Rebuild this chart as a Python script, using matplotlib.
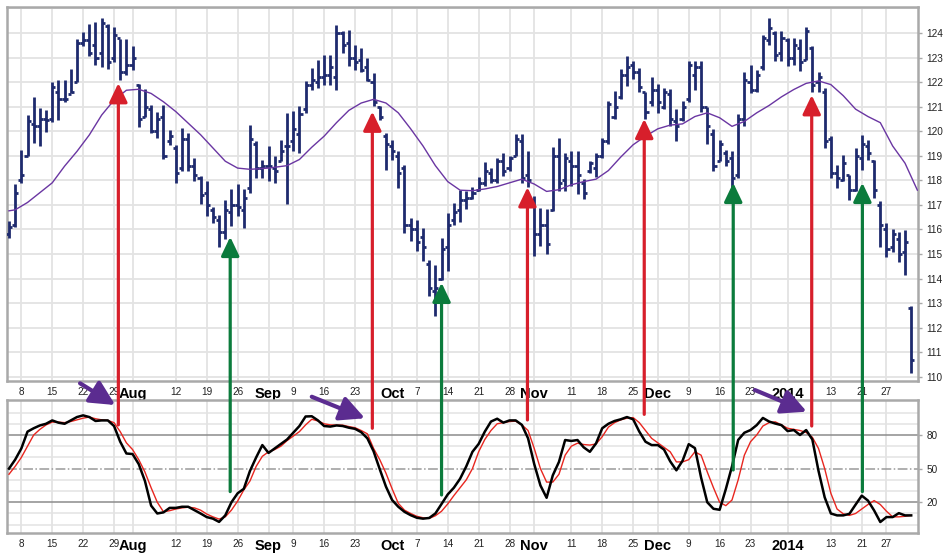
import numpy as np
import pandas as pd
import matplotlib
matplotlib.use('Agg')
import matplotlib.pyplot as plt

plt.rcParams['font.family'] = ['Liberation Sans', 'DejaVu Sans']

# trading days shown, Jul 3 2013 .. Jan 31 2014
holidays = ['2013-07-04', '2013-09-02', '2013-11-28', '2013-12-25', '2014-01-01', '2014-01-20']
dates = pd.bdate_range('2013-07-03', '2014-01-31', freq='C', holidays=holidays)

# daily OHLC
hi = [116.35, 117.84, 119.25, 120.66, 121.40, 120.93, 120.86, 122.01, 122.08, 122.10,
      122.55, 123.76, 124.03, 124.36, 124.43, 124.63, 124.36, 124.23, 123.76, 123.76,
      123.49, 121.94, 121.74, 121.07, 120.80, 121.07, 120.06, 119.45, 120.12, 119.92,
      118.91, 118.17, 117.97, 116.90, 116.60, 117.20, 117.65, 117.85, 117.65, 120.27,
      119.59, 118.84, 119.39, 118.98, 119.66, 120.74, 120.81, 121.01, 122.03, 122.58,
      122.91, 123.12, 123.12, 124.34, 124.07, 124.14, 123.53, 123.39, 122.98, 122.37,
      121.01, 119.93, 119.66, 119.18, 118.64, 116.47, 116.40, 116.06, 114.77, 114.57,
      115.66, 116.67, 117.08, 117.60, 117.55, 117.71, 118.12, 118.73, 118.52, 118.93,
      119.13, 119.00, 119.88, 119.88, 119.20, 117.37, 116.89, 116.83, 119.34, 119.74,
      119.13, 119.20, 119.20, 118.05, 118.79, 119.13, 119.74, 121.24, 121.64, 122.53,
      123.07, 122.86, 122.59, 121.58, 122.19, 121.91, 121.78, 121.71, 120.90, 121.24,
      122.85, 122.85, 122.85, 121.00, 120.10, 119.65, 119.25, 119.20, 120.70, 122.40,
      122.70, 122.50, 123.90, 124.60, 124.10, 124.10, 123.80, 123.80, 123.75, 124.25,
      123.46, 122.40, 121.76, 119.80, 118.64, 119.05, 118.23, 119.32, 119.86, 119.65,
      118.84, 117.17, 116.25, 116.04, 115.91, 115.98, 112.90]
lo = [115.64, 116.09, 117.90, 118.98, 119.52, 119.38, 119.99, 120.39, 120.46, 121.20,
      121.54, 122.01, 123.49, 123.08, 122.68, 122.61, 122.55, 122.82, 122.08, 122.28,
      122.48, 120.19, 120.60, 119.92, 119.72, 118.85, 119.45, 117.90, 118.37, 118.37,
      117.97, 117.03, 116.56, 116.25, 115.30, 115.60, 116.15, 116.55, 116.05, 117.50,
      118.10, 118.10, 117.96, 117.89, 118.78, 117.03, 119.18, 119.12, 120.74, 121.69,
      121.76, 121.90, 121.90, 121.70, 123.19, 122.64, 122.51, 122.40, 122.03, 121.01,
      120.47, 118.44, 118.84, 117.69, 115.86, 115.52, 115.11, 114.71, 113.28, 112.47,
      113.96, 114.30, 116.20, 116.30, 116.85, 117.23, 117.57, 117.78, 117.91, 117.91,
      118.18, 118.39, 119.00, 117.91, 117.71, 114.93, 115.33, 114.99, 116.76, 117.57,
      117.57, 117.78, 117.44, 117.23, 118.32, 118.12, 118.93, 119.47, 120.49, 121.30,
      121.85, 122.12, 121.58, 120.49, 121.03, 120.76, 120.90, 120.22, 119.61, 120.42,
      121.20, 121.70, 120.80, 119.50, 118.40, 118.80, 118.60, 117.20, 118.10, 120.20,
      121.55, 121.60, 122.50, 123.50, 122.85, 122.85, 122.65, 122.70, 122.45, 122.90,
      121.60, 121.60, 119.32, 118.10, 117.70, 117.96, 117.21, 117.55, 118.43, 118.84,
      117.28, 115.30, 114.89, 115.09, 114.68, 114.14, 110.14]
op = [115.8, 116.2, 118.0, 119.0, 120.3, 120.2, 120.5, 120.5, 121.6, 121.3,
      121.5, 122.0, 123.6, 123.7, 123.5, 123.2, 124.3, 123.0, 123.8, 122.4,
      122.7, 121.9, 120.6, 120.9, 120.0, 120.6, 119.6, 119.3, 118.5, 119.7,
      118.6, 118.1, 117.5, 116.8, 116.4, 115.9, 116.7, 117.0, 116.8, 117.7,
      119.5, 118.5, 118.6, 118.5, 118.8, 119.4, 119.6, 119.9, 120.9, 121.9,
      122.0, 122.2, 122.3, 122.2, 124.0, 123.6, 123.0, 122.9, 122.6, 122.0,
      121.0, 119.8, 119.4, 119.0, 118.5, 116.2, 116.0, 115.7, 114.6, 113.5,
      114.0, 115.3, 116.4, 116.8, 117.2, 117.3, 117.6, 117.9, 118.3, 118.0,
      118.8, 118.5, 119.0, 119.6, 118.2, 117.2, 115.8, 116.2, 116.8, 119.0,
      118.0, 118.8, 118.6, 117.9, 118.4, 118.5, 119.0, 119.6, 120.6, 121.4,
      122.3, 122.7, 122.4, 121.6, 121.2, 121.7, 121.0, 121.5, 120.4, 120.5,
      121.3, 122.3, 122.6, 121.0, 119.9, 118.8, 119.1, 118.9, 118.2, 120.5,
      122.0, 121.7, 122.6, 123.7, 124.0, 123.2, 123.7, 123.0, 123.4, 122.9,
      123.4, 122.0, 121.6, 119.7, 118.3, 118.0, 118.2, 117.6, 118.9, 119.4,
      118.8, 117.0, 116.0, 115.3, 115.6, 115.1, 112.8]
cl = [116.1, 117.5, 118.2, 120.4, 120.2, 120.5, 120.46, 121.8, 121.3, 121.3,
      121.6, 123.6, 123.7, 123.2, 123.0, 124.4, 122.8, 123.9, 122.4, 122.7,
      123.0, 120.5, 121.0, 120.0, 120.5, 119.0, 119.8, 118.3, 119.7, 118.6,
      118.2, 117.4, 117.0, 116.5, 115.9, 116.8, 117.0, 116.9, 117.3, 119.7,
      118.5, 118.6, 118.6, 118.4, 119.2, 119.4, 120.1, 120.7, 121.9, 122.1,
      122.2, 122.3, 122.6, 124.0, 123.5, 123.0, 122.8, 122.5, 122.1, 121.2,
      120.6, 119.5, 119.2, 118.3, 116.2, 116.0, 115.5, 115.3, 113.6, 113.6,
      115.2, 116.2, 116.7, 117.2, 117.3, 117.5, 117.9, 118.4, 118.0, 118.8,
      118.4, 118.9, 119.7, 118.1, 118.0, 115.8, 116.2, 115.4, 119.0, 117.9,
      118.9, 118.6, 118.2, 117.5, 118.7, 119.0, 119.6, 121.1, 121.0, 122.3,
      122.6, 122.4, 121.8, 120.8, 121.7, 121.2, 121.6, 120.5, 120.2, 121.0,
      122.7, 122.6, 121.0, 120.2, 118.6, 119.5, 118.8, 118.1, 120.5, 122.1,
      121.7, 122.3, 123.8, 124.2, 123.1, 123.8, 123.0, 123.5, 122.8, 124.1,
      121.9, 122.2, 119.6, 118.3, 118.1, 118.7, 117.6, 119.0, 119.5, 119.1,
      117.6, 116.2, 115.2, 115.8, 115.0, 115.5, 110.7]

# moving average, read at every other bar
ma_day = [0, 1, 3, 5, 7, 9, 11, 13, 15, 17, 19, 21, 23, 25, 27, 29, 31, 33, 35, 37,
          39, 42, 45, 47, 49, 51, 53, 55, 57, 59, 61, 63, 65, 67, 69, 71, 73, 75, 77, 79,
          81, 83, 85, 87, 89, 91, 93, 95, 97, 99, 101, 103, 105, 107, 109, 111, 113, 115,
          117, 119, 121, 123, 125, 127, 129, 131, 133, 135, 137, 139, 141, 143, 145, 147]
ma_val = [116.76, 116.8, 117.1, 117.5, 117.9, 118.58, 119.18, 119.85, 120.66, 121.27,
          121.67, 121.71, 121.54, 121.2, 120.8, 120.33, 119.86, 119.32, 118.78, 118.5,
          118.45, 118.5, 118.6, 118.85, 119.35, 119.8, 120.35, 120.85, 121.15, 121.3,
          121.15, 120.75, 120.1, 119.4, 118.6, 117.95, 117.6, 117.58, 117.65, 117.75,
          117.9, 118.05, 117.85, 117.55, 117.62, 117.82, 117.95, 118.05, 118.4, 118.95,
          119.45, 119.8, 120.1, 120.25, 120.3, 120.6, 120.75, 120.55, 120.2, 120.4,
          120.75, 121.05, 121.4, 121.7, 121.95, 122.05, 121.9, 121.45, 120.9, 120.6,
          120.35, 119.4, 118.7, 117.6]

# slow stochastic %K (black) and %D (red)
pct_k = [50, 58, 68, 83, 86, 88.5, 90, 93, 91, 90, 93, 96, 97.5, 96, 92.5, 93, 93, 88, 74, 63.5,
         63, 54, 39, 17, 10, 11, 15, 15, 16, 16, 13, 10, 6.8, 5.4, 2.5, 8.3, 20, 28, 32, 48,
         60, 71, 64, 68, 72, 76, 82, 88, 96.5, 96.7, 93, 88, 87.5, 88.5, 88, 86.5, 85.5, 82.5, 77, 65.5,
         49.5, 34, 22, 16, 11.5, 8.5, 6.2, 5.4, 6, 10, 18.5, 27, 33, 41, 52, 65, 72, 83, 92, 94.5,
         91, 93, 93, 89, 77, 54, 35, 24, 44, 56, 75.5, 74.7, 75.5, 69, 65, 72.5, 86, 90, 92.5, 94,
         96, 94, 83, 74, 71, 71, 67, 56.5, 48.5, 57, 71.8, 68.3, 42, 20, 14.2, 13.3, 31.7, 52, 75.6, 82,
         84.4, 88.8, 95.2, 92, 90.2, 88.8, 83.5, 84.4, 80, 84.4, 76, 48, 24.4, 10, 8.3, 8.3, 9.7, 17.9, 25.9, 21.5,
         12.7, 2.4, 6.8, 6.8, 10.3, 8.3, 8.3]
pct_d = [45, 52, 60, 70, 80, 85, 89, 91.5, 91.5, 91, 92, 93.5, 95, 96, 94.5, 93.5, 93, 91, 83, 73,
         67, 58, 47, 33, 20, 11.5, 12.5, 14, 15, 15.6, 15, 13, 9.5, 7, 5, 7, 13, 21, 31, 39,
         52, 61, 65, 67, 70, 75, 79, 83, 89, 94, 92.5, 90, 89, 88.8, 88.8, 87.5, 86.5, 84, 81, 68,
         58, 46, 32, 19, 13, 10, 7.5, 6.2, 5.6, 8, 12, 18.5, 26, 33, 40, 50, 65, 76, 84, 90,
         91, 92, 92.3, 89, 84, 68, 50, 38, 38, 45, 62, 70, 72.7, 71.5, 71, 72, 78.5, 87, 91, 93.5,
         95, 95.5, 91, 84, 77, 73, 69, 65, 56, 56, 58, 65, 62, 47, 33, 20, 17, 22, 40, 62,
         74, 80, 88, 91, 91.7, 89, 86, 85, 84, 82.3, 78, 68, 50, 28, 14, 9.7, 8.3, 10, 14, 18,
         21.5, 18, 12, 7, 7, 7.5, 8.3]

# date axis labels
week_ticks = ['2013-07-08', '2013-07-15', '2013-07-22', '2013-07-29', '2013-08-12', '2013-08-19',
              '2013-08-26', '2013-09-09', '2013-09-16', '2013-09-23', '2013-10-07', '2013-10-14',
              '2013-10-21', '2013-10-28', '2013-11-11', '2013-11-18', '2013-11-25', '2013-12-09',
              '2013-12-16', '2013-12-23', '2014-01-13', '2014-01-21', '2014-01-27']
month_ticks = ['2013-08-01', '2013-09-03', '2013-10-01', '2013-11-01', '2013-12-02', '2014-01-02']
month_labels = ['Aug', 'Sep', 'Oct', 'Nov', 'Dec', '2014']

# signal arrows: (day, price at tip, stochastic value at base)
red_sig = [(17.7, 121.96, 89), (58.8, 120.8, 86), (83.9, 117.72, 93.4), (102.8, 120.5, 98.4), (129.9, 121.47, 88)]
green_sig = [(35.8, 115.7, 29.5), (70.0, 113.83, 26.5), (117.2, 117.9, 48.8), (138.1, 117.9, 29.5)]
# purple arrows: (day0, stoch0, day1, stoch1)
purple_sig = [(11.5, 126.1, 17.2, 106.7), (49.0, 114.1, 57.6, 94.9), (120.7, 120.1, 129.1, 100.8)]

BAR = '#1e2a6e'
GRID = '#e3e3e3'
FRAME = '#a9a9a9'

x = np.arange(len(dates))
wk_pos = dates.get_indexer(pd.to_datetime(week_ticks))
mo_pos = dates.get_indexer(pd.to_datetime(month_ticks))
wk_lab = [str(pd.Timestamp(d).day) for d in week_ticks]

fig = plt.figure(figsize=(9.53, 5.56), dpi=100)
ax1 = fig.add_axes([7 / 953, 1 - 381 / 556, 911 / 953, 374 / 556])
ax2 = fig.add_axes([7 / 953, 1 - 533 / 556, 911 / 953, 133 / 556])

for ax in (ax1, ax2):
    ax.set_xlim(-0.32, 147.1)
    for p in list(wk_pos) + list(mo_pos):
        ax.axvline(p, color=GRID, lw=1.3, zorder=0)
    for s in ax.spines.values():
        s.set_color(FRAME)
        s.set_linewidth(1.8)
    ax.yaxis.tick_right()
    ax.tick_params(axis='y', length=3, width=1, color=FRAME, pad=3, labelsize=7.2, labelcolor='#222222')
    ax.tick_params(axis='x', length=0, pad=4)
    ax.set_xticks(list(wk_pos) + list(mo_pos))
    ax.set_xticklabels(wk_lab + month_labels)
    for t in ax.get_xticklabels()[len(wk_pos):]:
        t.set_fontsize(10.5)
        t.set_fontweight('bold')
    for t in ax.get_xticklabels()[:len(wk_pos)]:
        t.set_fontsize(7.2)
        t.set_color('#222222')

# price panel
ax1.set_ylim(109.83, 125.06)
ax1.set_yticks(range(110, 125))
for v in range(110, 126):
    ax1.axhline(v, color=GRID, lw=1.3, zorder=0)
ax1.vlines(x, lo, hi, color=BAR, lw=2.0, zorder=3)
ax1.hlines(op, x - 0.5, x, color=BAR, lw=2.0, zorder=3)
ax1.hlines(cl, x, x + 0.5, color=BAR, lw=2.0, zorder=3)
ax1.plot(ma_day, ma_val, color='#6a36a2', lw=1.0, zorder=4)

# stochastic panel
ax2.set_ylim(-7.4, 111.2)
ax2.set_yticks([20, 50, 80])
for v in [0, 10, 30, 40, 60, 70, 90, 100]:
    ax2.axhline(v, color=GRID, lw=1.1, zorder=0)
ax2.axhline(80, color='#8c8c8c', lw=1.1, zorder=1)
ax2.axhline(20, color='#8c8c8c', lw=1.1, zorder=1)
ax2.axhline(50, color='#9a9a9a', lw=1.1, ls='-.', zorder=1)
ax2.plot(x, pct_d, color='#e8261f', lw=1.0, zorder=3)
ax2.plot(x, pct_k, color='black', lw=1.8, zorder=4)

# vertical signal arrows from the oscillator up to price
for sigs, col in ((red_sig, '#d71f2b'), (green_sig, '#0b7b3c')):
    for d, p, s in sigs:
        ax2.annotate('', xy=(d, p), xycoords=ax1.transData, xytext=(d, s), textcoords='data',
                     arrowprops=dict(arrowstyle='-|>,head_length=1.15,head_width=0.55',
                                     color=col, lw=2.3, shrinkA=0, shrinkB=0, mutation_scale=10),
                     annotation_clip=False, zorder=6)

for d0, s0, d1, s1 in purple_sig:
    ax2.annotate('', xy=(d1, s1), xytext=(d0, s0),
                 arrowprops=dict(arrowstyle='-|>,head_length=1.5,head_width=0.75',
                                 color='#5b2c90', lw=3.0, shrinkA=0, shrinkB=0, mutation_scale=10),
                 annotation_clip=False, zorder=6)

fig.savefig('out.png', dpi=100)
